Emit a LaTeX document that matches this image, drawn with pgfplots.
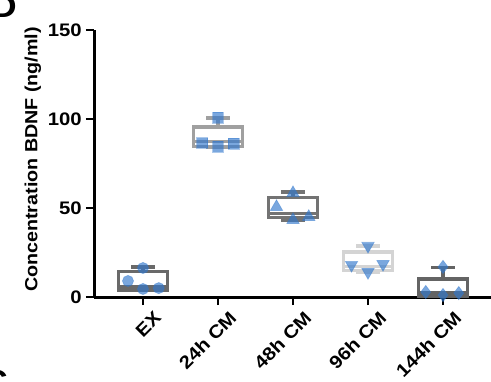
\documentclass[border=0pt]{standalone}
\usepackage{pgfplots}
\pgfplotsset{compat=1.18}
\usepgfplotslibrary{statistics}
\usepackage{fontspec}
\setmainfont{Liberation Sans}[FakeStretch=1.12]
\definecolor{markblue}{RGB}{50,120,205}
\definecolor{gA}{RGB}{105,105,105}
\definecolor{gB}{RGB}{160,160,160}
\definecolor{gC}{RGB}{115,115,115}
\definecolor{gD}{RGB}{212,212,212}
\definecolor{gE}{RGB}{100,100,100}
\newcommand{\tl}{\fontsize{13.6}{13.6}\selectfont\bfseries}
\begin{document}
\begin{tikzpicture}
\useasboundingbox (-70.5pt,-63pt) rectangle (297.75pt,222.75pt);
\begin{axis}[
  at={(0,0)}, anchor=south west,
  scale only axis, width=297.75pt, height=200.25pt,
  xmin=-0.6533, xmax=4.64, ymin=0, ymax=150,
  axis x line*=bottom, axis y line*=left,
  axis line style={line width=2.25pt, black},
  xtick={0,1,2,3,4},
  xticklabels={{\tl EX},{\tl 24h CM},{\tl 48h CM},{\tl 96h CM},{\tl 144h CM}},
  ytick={0,50,100,150},
  yticklabels={{\tl 0},{\tl 50},{\tl 100},{\tl 150}},
  tick align=outside, major tick length=6pt,
  tick style={line width=1.8pt, black},
  /pgf/number format/assume math mode=true,
  xticklabel style={rotate=45, anchor=north east, inner sep=0pt, xshift=3pt, yshift=-8pt},
  yticklabel style={anchor=east, inner sep=0pt, xshift=-3pt},
  ylabel={Concentration BDNF (ng/ml)},
  ylabel style={at={(axis description cs:-0.154,0.515)}, anchor=center, font=\fontsize{13.2}{13.2}\selectfont\bfseries},
  boxplot/draw direction=y,
  boxplot/box extend=0.65,
  boxplot/whisker extend=0.32,
  clip=false,
]
\addplot[draw=gA, line width=2.4pt, solid, boxplot prepared={draw position=0, lower whisker=3.7, lower quartile=3.7, median=5.6, upper quartile=14.3, upper whisker=16.9}] coordinates {};
\addplot[draw=gB, line width=2.4pt, solid, boxplot prepared={draw position=1, lower whisker=84.3, lower quartile=84.6, median=87.2, upper quartile=95.5, upper whisker=100.6}] coordinates {};
\addplot[draw=gC, line width=2.4pt, solid, boxplot prepared={draw position=2, lower whisker=43.3, lower quartile=44.7, median=46.9, upper quartile=55.9, upper whisker=59.0}] coordinates {};
\addplot[draw=gD, line width=2.4pt, solid, boxplot prepared={draw position=3, lower whisker=14.0, lower quartile=14.9, median=17.1, upper quartile=25.3, upper whisker=28.7}] coordinates {};
\addplot[draw=gE, line width=2.4pt, solid, boxplot prepared={draw position=4, lower whisker=0.6, lower quartile=0.6, median=2.2, upper quartile=10.1, upper whisker=16.5}] coordinates {};
% data points
\addplot[only marks, mark=*, mark size=4.2pt, mark options={fill=markblue, draw=markblue, fill opacity=0.65, draw opacity=0.4, line width=0.5pt}]
  coordinates {(0,16.3) (-0.2,9) (0,4.5) (0.21,5)};
\addplot[only marks, mark=square*, mark size=4.1pt, mark options={fill=markblue, draw=markblue, fill opacity=0.65, draw opacity=0.4, line width=0.5pt}]
  coordinates {(1,100.6) (0.79,86.5) (1,84.3) (1.21,86.0)};
\addplot[only marks, mark=triangle*, mark size=5.4pt, mark options={fill=markblue, draw=markblue, fill opacity=0.65, draw opacity=0.4, line width=0.5pt}]
  coordinates {(2,58.4) (1.78,50.6) (2,43.3) (2.21,45)};
\addplot[only marks, mark=triangle*, mark size=5.4pt, mark options={rotate=180, fill=markblue, draw=markblue, fill opacity=0.65, draw opacity=0.4, line width=0.5pt}]
  coordinates {(3,28.7) (2.78,18) (3,14) (3.2,18.5)};
\addplot[only marks, mark=diamond*, mark size=5pt, mark options={fill=markblue, draw=markblue, fill opacity=0.65, draw opacity=0.4, line width=0.5pt}]
  coordinates {(4,16.9) (3.77,2.8) (4,1.1) (4.21,2.2)};
\end{axis}
\node[anchor=base east, inner sep=0pt, font=\fontsize{24}{24}\selectfont\bfseries] at (-57.75pt,209.25pt) {D};
\node[anchor=north east, inner sep=0pt, font=\fontsize{24}{24}\selectfont\bfseries] at (-64.5pt,-54.75pt) {C};
\end{tikzpicture}
\end{document}
